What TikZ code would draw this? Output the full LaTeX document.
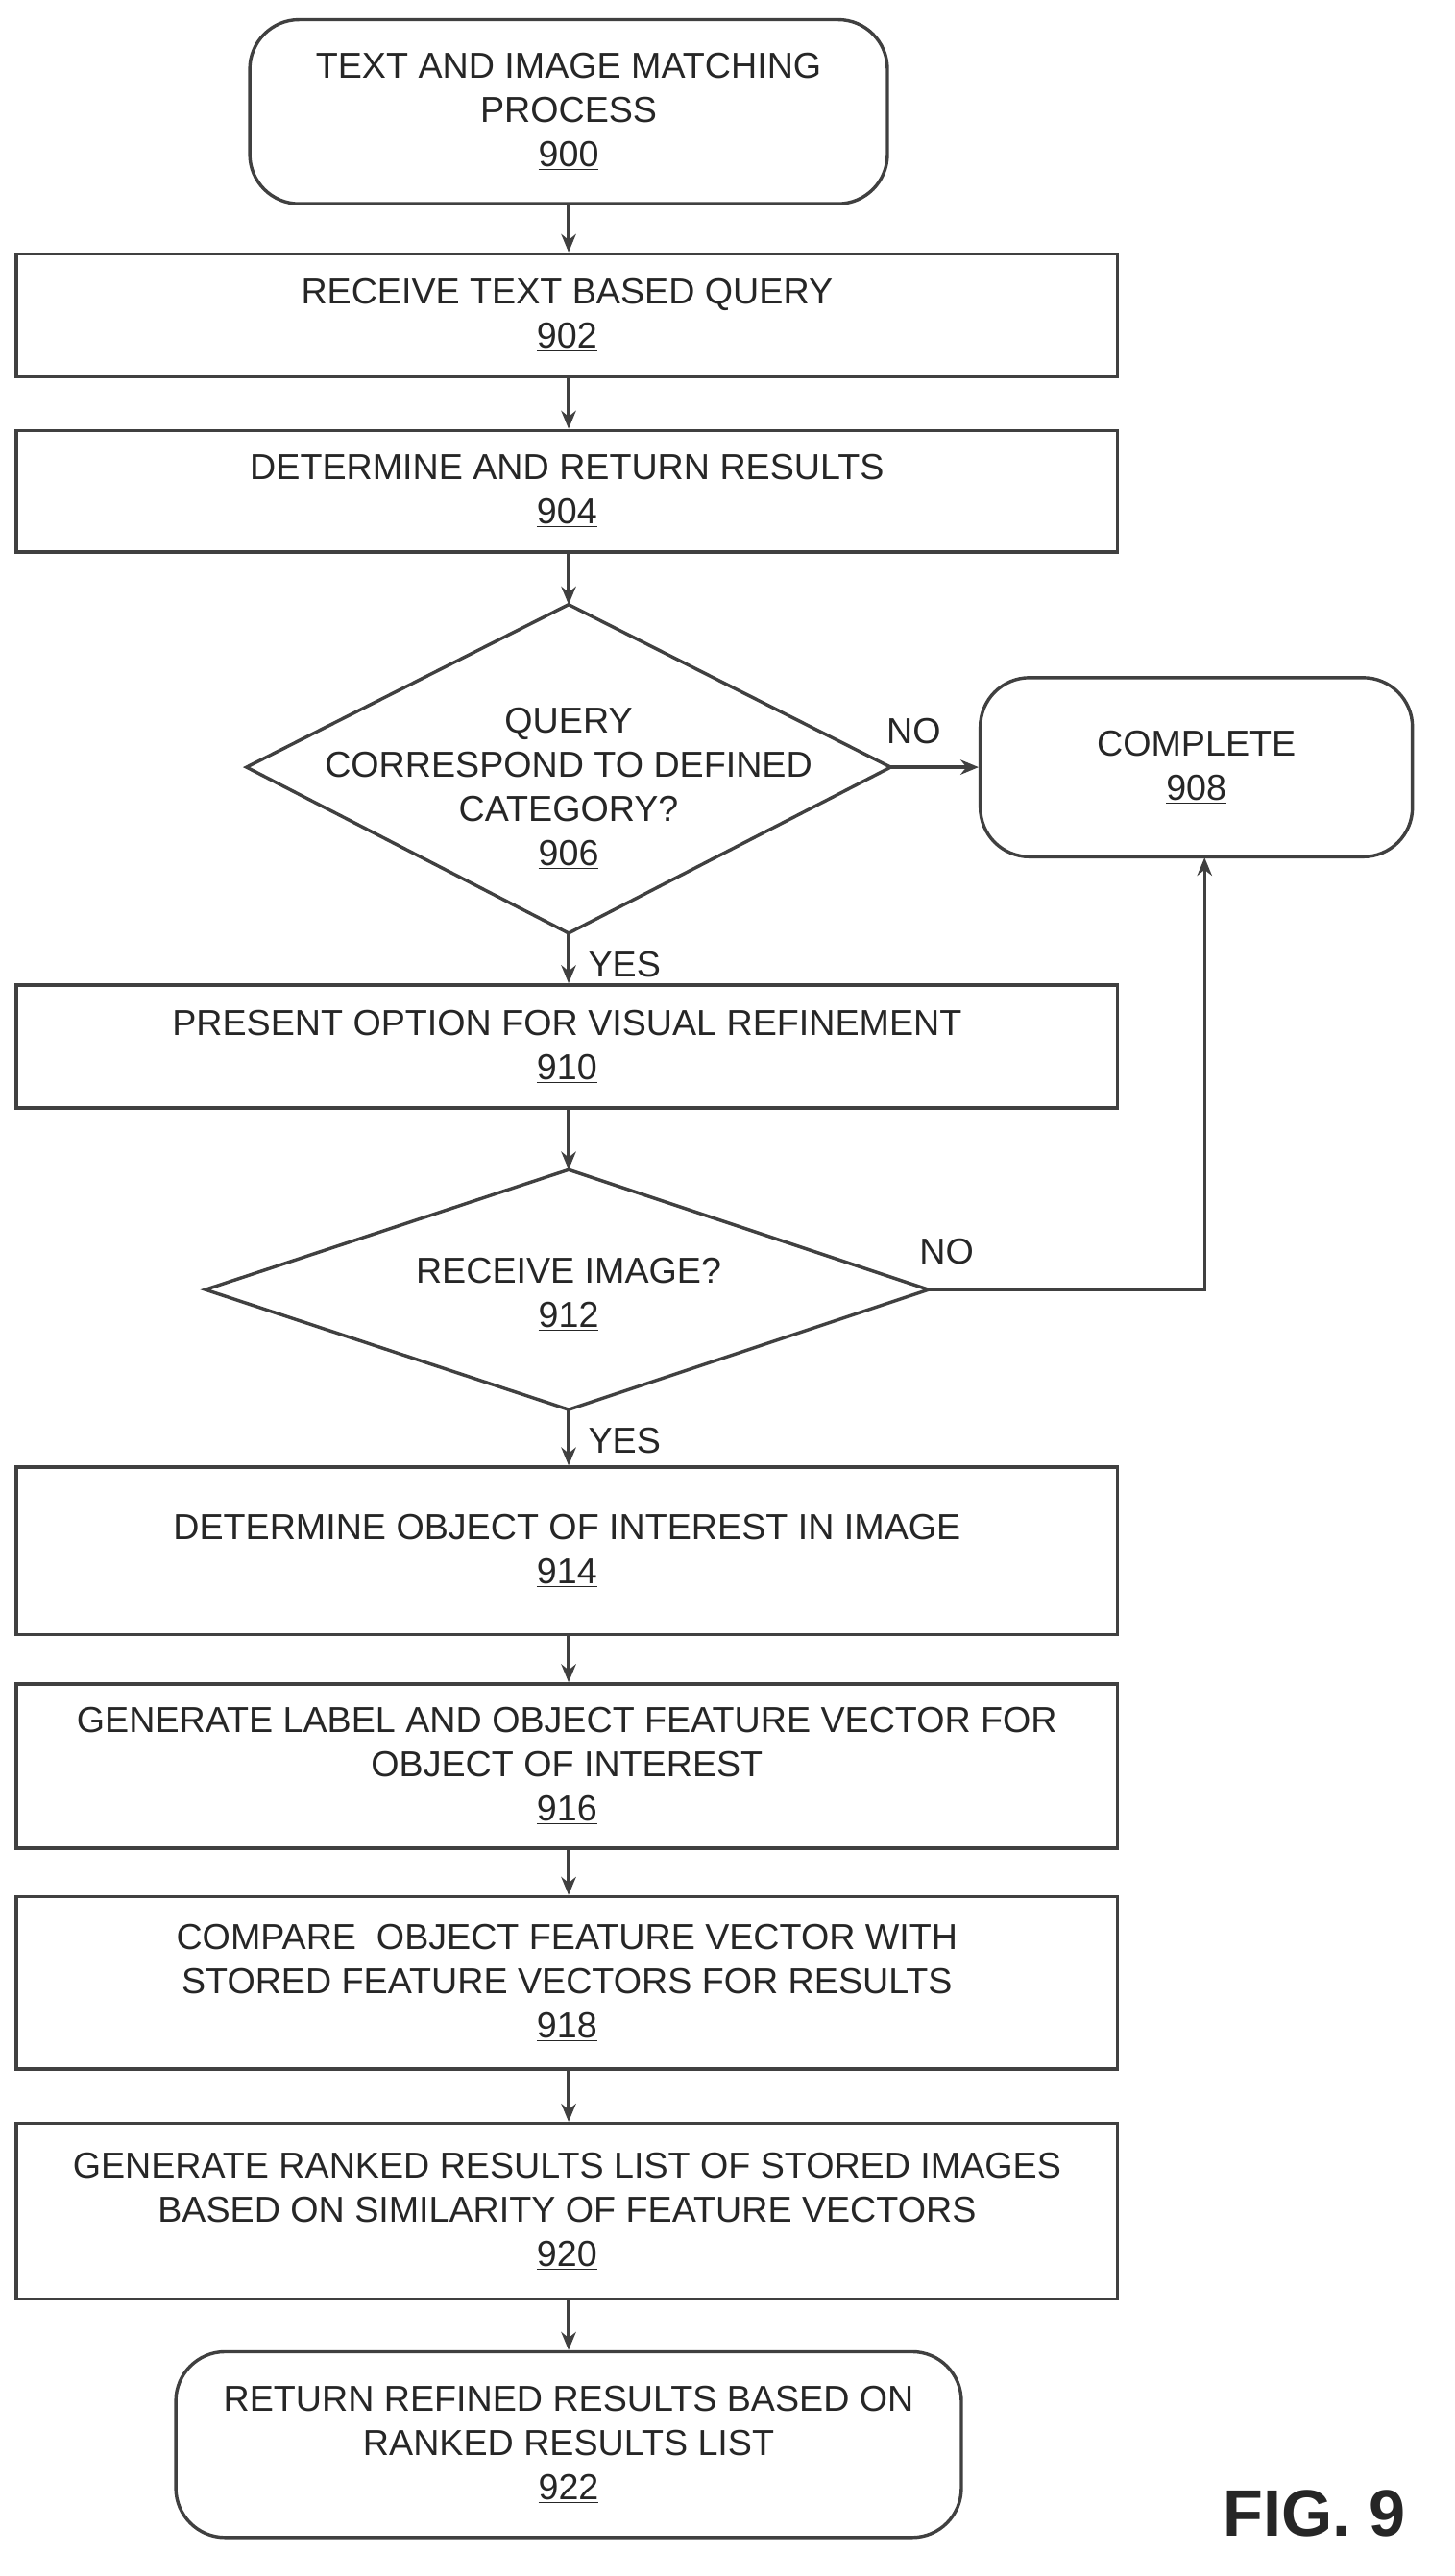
\documentclass[tikz,border=0pt]{standalone}
\usepackage{fontspec}
\setmainfont{Liberation Sans}
\usetikzlibrary{shapes.geometric,arrows.meta}
\begin{document}
\begin{tikzpicture}[x=1pt,y=-1pt,
  every node/.style={font=\fontsize{22}{27}\selectfont, text=black!85, align=center},
  box/.style={draw=black!75, line width=2pt, inner sep=0pt},
  rbox/.style={box, rounded corners=30pt},
  dia/.style={box, diamond, aspect=1.96},
  arr/.style={draw=black!75, line width=2pt, -{Stealth[length=11pt,width=9pt]}},
  lab/.style={font=\fontsize{22}{27}\selectfont}]
\useasboundingbox (0,0) rectangle (885,1568);
\node[rbox, minimum width=388pt, minimum height=112pt] (n900) at (346,68) {TEXT AND IMAGE MATCHING\\PROCESS\\\underline{900}};
\node[box, minimum width=670pt, minimum height=75pt] (n902) at (345,192) {RECEIVE TEXT BASED QUERY\\\underline{902}};
\node[box, minimum width=670pt, minimum height=74pt] (n904) at (345,299) {DETERMINE AND RETURN RESULTS\\\underline{904}};
\draw[box] (346,368) -- (542,467) -- (346,568) -- (150,467) -- cycle;
\node (n906) at (346,480) {QUERY\\CORRESPOND TO DEFINED\\CATEGORY?\\\underline{906}};
\coordinate (d6t) at (346,368); \coordinate (d6b) at (346,568); \coordinate (d6r) at (542,467);
\node[rbox, minimum width=263pt, minimum height=109pt] (n908) at (728,467) {COMPLETE\\\underline{908}};
\node[box, minimum width=670pt, minimum height=75pt] (n910) at (345,637) {PRESENT OPTION FOR VISUAL REFINEMENT\\\underline{910}};
\draw[box] (346,712) -- (565,785) -- (346,858) -- (125,785) -- cycle;
\node (n912) at (346,788) {RECEIVE IMAGE?\\\underline{912}};
\coordinate (d2t) at (346,712); \coordinate (d2b) at (346,858); \coordinate (d2r) at (565,785);
\node[box, minimum width=670pt, minimum height=102pt] (n914) at (345,944) {DETERMINE OBJECT OF INTEREST IN IMAGE\\\underline{914}};
\node[box, minimum width=670pt, minimum height=100pt] (n916) at (345,1075) {GENERATE LABEL AND OBJECT FEATURE VECTOR FOR\\OBJECT OF INTEREST\\\underline{916}};
\node[box, minimum width=670pt, minimum height=105pt] (n918) at (345,1207) {COMPARE\ \ OBJECT FEATURE VECTOR WITH\\STORED FEATURE VECTORS FOR RESULTS\\\underline{918}};
\node[box, minimum width=670pt, minimum height=107pt] (n920) at (345,1346) {GENERATE RANKED RESULTS LIST OF STORED IMAGES\\BASED ON SIMILARITY OF FEATURE VECTORS\\\underline{920}};
\node[rbox, minimum width=478pt, minimum height=113pt] (n922) at (346,1488) {RETURN REFINED RESULTS BASED ON\\RANKED RESULTS LIST\\\underline{922}};
\node[font=\fontsize{40}{44}\selectfont\bfseries] (fig) at (800,1530) {FIG. 9};
\draw[arr] (n900.south -| d6t) -- (n902.north -| d6t);
\draw[arr] (n902.south -| d6t) -- (n904.north -| d6t);
\draw[arr] (n904.south -| d6t) -- (d6t);
\draw[arr] (d6r) -- (n908.west |- d6r);
\draw[arr] (d6b) -- (n910.north -| d6t);
\draw[arr] (n910.south -| d6t) -- (d2t);
\draw[arr] (d2r) -- (733,785) -- (733,522);
\draw[arr] (d2b) -- (n914.north -| d6t);
\draw[arr] (n914.south -| d6t) -- (n916.north -| d6t);
\draw[arr] (n916.south -| d6t) -- (n918.north -| d6t);
\draw[arr] (n918.south -| d6t) -- (n920.north -| d6t);
\draw[arr] (n920.south -| d6t) -- (n922.north -| d6t);
\node[lab] (no1) at (556,445) {NO};
\node[lab] (no2) at (576,762) {NO};
\node[lab] (yes1) at (380,587) {YES};
\node[lab] (yes2) at (380,877) {YES};
\end{tikzpicture}
\end{document}
